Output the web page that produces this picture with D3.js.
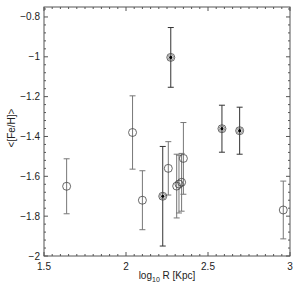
<!DOCTYPE html>
<html>
<head>
<meta charset="utf-8">
<script src="https://cdn.jsdelivr.net/npm/d3@7"></script>
<style>
  body { margin: 0; background: #fff; }
  svg { font-family: "Liberation Sans", Arial, sans-serif; }
</style>
</head>
<body>
<svg id="chart"></svg>
<script>
const width = 300;
const height = 288;
const marginTop = 7;
const marginRight = 10;
const marginBottom = 32;
const marginLeft = 44;

// data: log10 R, <[Fe/H]>, error, marker kind
const logR = [1.638, 2.04, 2.10, 2.273, 2.585, 2.693, 2.959, 2.224, 2.258, 2.309, 2.323, 2.339, 2.35];
const feh = [-1.65, -1.38, -1.72, -1.003, -1.361, -1.371, -1.769, -1.70, -1.56, -1.649, -1.639, -1.63, -1.51];
const err = [0.138, 0.184, 0.148, 0.15, 0.118, 0.118, 0.145, 0.25, 0.134, 0.16, 0.145, 0.145, 0.18];
const dotted = [false, false, false, true, true, true, false, true, false, false, false, false, false];

const xTicks = [1.5, 2, 2.5, 3];
const yTicks = [-2, -1.8, -1.6, -1.4, -1.2, -1, -0.8];

const data = logR.map((x, i) => ({ x, y: feh[i], e: err[i], dot: dotted[i] }));

const svg = d3.select("#chart").attr("width", width).attr("height", height);

const x = d3.scaleLinear().domain([1.5, 3]).range([marginLeft, width - marginRight]);
const y = d3.scaleLinear().domain([-2, -0.75]).range([height - marginBottom, marginTop]);

const fmt = (d) => (d < 0 ? "\u2212" : "") + Math.abs(d);

// minor ticks on all four sides
const xMinor = d3.range(1.5, 3.0001, 0.05);
const yMinor = d3.range(-2, -0.7499, 0.04);
const tickCol = "#555";

svg.append("g").selectAll("line").data(xMinor).join("line")
  .attr("x1", (d) => x(d)).attr("x2", (d) => x(d))
  .attr("y1", y(-2)).attr("y2", (d, i) => y(-2) - (i % 10 === 0 ? 4 : 2))
  .attr("stroke", tickCol);
svg.append("g").selectAll("line").data(xMinor).join("line")
  .attr("x1", (d) => x(d)).attr("x2", (d) => x(d))
  .attr("y1", y(-0.75)).attr("y2", (d, i) => y(-0.75) + (i % 10 === 0 ? 4 : 2))
  .attr("stroke", tickCol);
svg.append("g").selectAll("line").data(yMinor).join("line")
  .attr("y1", (d) => y(d)).attr("y2", (d) => y(d))
  .attr("x1", x(1.5)).attr("x2", (d, i) => x(1.5) + (i % 5 === 0 ? 4 : 2))
  .attr("stroke", tickCol);
svg.append("g").selectAll("line").data(yMinor).join("line")
  .attr("y1", (d) => y(d)).attr("y2", (d) => y(d))
  .attr("x1", x(3)).attr("x2", (d, i) => x(3) - (i % 5 === 0 ? 4 : 2))
  .attr("stroke", tickCol);

// frame
svg.append("rect")
  .attr("x", x(1.5)).attr("y", y(-0.75))
  .attr("width", x(3) - x(1.5)).attr("height", y(-2) - y(-0.75))
  .attr("fill", "none").attr("stroke", "#555").attr("stroke-width", 1);

// tick labels
svg.append("g").selectAll("text").data(xTicks).join("text")
  .attr("x", (d) => x(d)).attr("y", y(-2) + 14)
  .attr("text-anchor", "middle").attr("font-size", 10).attr("fill", "#222")
  .text((d) => d);
svg.append("g").selectAll("text").data(yTicks).join("text")
  .attr("x", x(1.5) - 4).attr("y", (d) => y(d) + 3.5)
  .attr("text-anchor", "end").attr("font-size", 10).attr("fill", "#222")
  .text(fmt);

// axis titles
const xl = svg.append("text")
  .attr("x", 167).attr("y", 279)
  .attr("text-anchor", "middle").attr("font-size", 10).attr("fill", "#222");
xl.append("tspan").text("log");
xl.append("tspan").attr("font-size", 7).attr("dy", 3).text("10");
xl.append("tspan").attr("dy", -3).text(" R [Kpc]");

svg.append("text")
  .attr("transform", "translate(15,128) rotate(-90)")
  .attr("text-anchor", "middle").attr("font-size", 10).attr("fill", "#222")
  .text("<[Fe/H]>");

// error bars
const bars = svg.append("g").selectAll("g").data(data).join("g")
  .attr("stroke", (d) => (d.dot ? "#333" : "#777")).attr("stroke-width", 1);
bars.append("line")
  .attr("x1", (d) => x(d.x)).attr("x2", (d) => x(d.x))
  .attr("y1", (d) => y(d.y - d.e)).attr("y2", (d) => y(d.y + d.e));
bars.append("line")
  .attr("x1", (d) => x(d.x) - 3).attr("x2", (d) => x(d.x) + 3)
  .attr("y1", (d) => y(d.y - d.e)).attr("y2", (d) => y(d.y - d.e));
bars.append("line")
  .attr("x1", (d) => x(d.x) - 3).attr("x2", (d) => x(d.x) + 3)
  .attr("y1", (d) => y(d.y + d.e)).attr("y2", (d) => y(d.y + d.e));

// markers
svg.append("g").selectAll("circle").data(data).join("circle")
  .attr("cx", (d) => x(d.x)).attr("cy", (d) => y(d.y)).attr("r", 4)
  .attr("fill", "none").attr("stroke", "#444").attr("stroke-width", 0.8);
const dots = data.filter((d) => d.dot);
svg.append("g").selectAll("circle").data(dots).join("circle")
  .attr("cx", (d) => x(d.x)).attr("cy", (d) => y(d.y)).attr("r", 2.8)
  .attr("fill", "none").attr("stroke", "#666").attr("stroke-width", 0.7);
svg.append("g").selectAll("circle").data(dots).join("circle")
  .attr("cx", (d) => x(d.x)).attr("cy", (d) => y(d.y)).attr("r", 1.6)
  .attr("fill", "#000");
</script>
</body>
</html>
